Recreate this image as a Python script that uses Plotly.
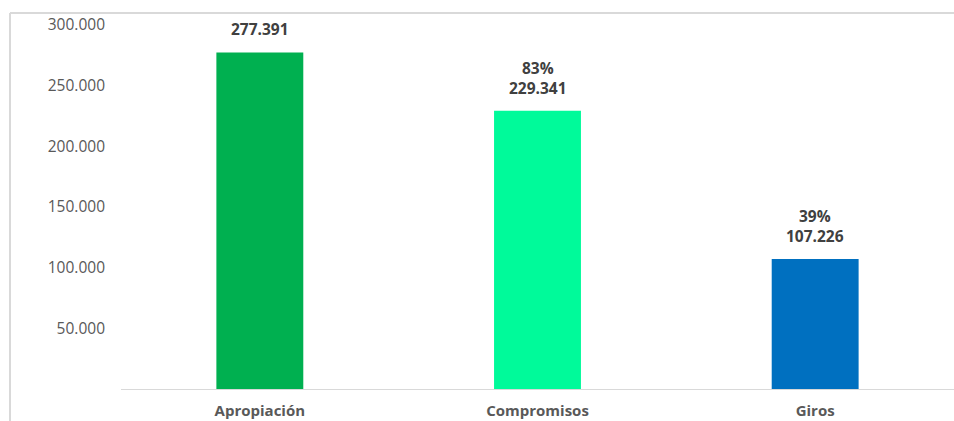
import plotly.graph_objects as go

categories = ["Apropiación", "Compromisos", "Giros"]
values = [277391, 229341, 107226]
percent_labels = ["", "83%", "39%"]
bar_colors = ["#00B050", "#00FA9A", "#0070C0"]
y_tick_values = [50000, 100000, 150000, 200000, 250000, 300000]

W, H = 954, 421
ML, MR, MT, MB = 121, 0, 25, 32
plot_w = W - ML - MR
plot_h = H - MT - MB


def fmt(v):
    return f"{v:,}".replace(",", ".")


fig = go.Figure()
fig.add_trace(go.Bar(
    x=categories,
    y=values,
    marker=dict(color=bar_colors, line=dict(width=0)),
    hoverinfo="skip",
))

for c, v, p in zip(categories, values, percent_labels):
    txt = (p + "<br>" if p else "") + fmt(v)
    fig.add_annotation(
        x=c, y=v, text=txt, showarrow=False,
        yanchor="bottom", yshift=10,
        font=dict(family="Open Sans", size=15.5, color="#404040", weight="bold"),
    )

# frame lines (chart area border)
fx = (10 - ML) / plot_w
fy = (H - MB - 13) / plot_h
fig.add_shape(type="line", xref="paper", yref="paper", x0=fx, x1=fx, y0=fy, y1=-1,
              line=dict(color="#d9d9d9", width=2))
fig.add_shape(type="line", xref="paper", yref="paper", x0=fx, x1=1.05, y0=fy, y1=fy,
              line=dict(color="#d9d9d9", width=2))

fig.update_layout(
    width=W, height=H,
    margin=dict(l=ML, r=MR, t=MT, b=MB),
    plot_bgcolor="white", paper_bgcolor="white",
    bargap=0.687,
    showlegend=False,
    xaxis=dict(
        range=[-0.5, 2.5],
        showline=True, linecolor="#d9d9d9", linewidth=1,
        showgrid=False, ticks="",
        tickfont=dict(family="Open Sans", size=15, color="#595959", weight="bold"),
        ticklabelstandoff=8,
    ),
    yaxis=dict(
        range=[0, 300000],
        tickvals=y_tick_values,
        ticktext=[fmt(v) for v in y_tick_values],
        showgrid=False, zeroline=False, showline=False, ticks="",
        tickfont=dict(family="Open Sans", size=15.5, color="#595959"),
        ticklabelstandoff=15,
    ),
)

fig.write_html(
    "out.html",
    config={"displayModeBar": False},
    post_script="document.body.style.margin='0';document.body.style.overflow='hidden';",
)
